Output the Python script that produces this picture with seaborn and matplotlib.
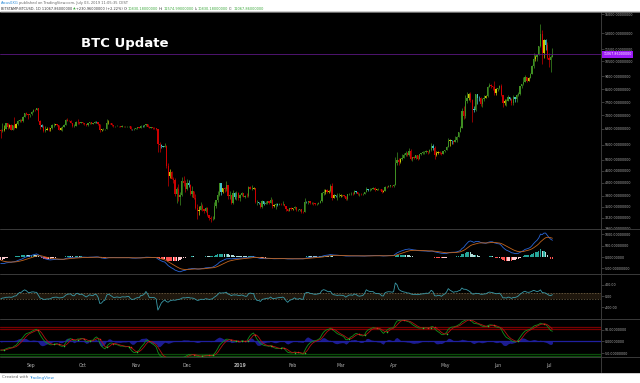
import numpy as np
import pandas as pd
import matplotlib
matplotlib.use("Agg")
import matplotlib.pyplot as plt
import matplotlib.transforms as mtrans
from matplotlib.ticker import NullLocator
import seaborn as sns

W, H = 640, 383

# BITSTAMP:BTCUSD daily. closes before the visible window only warm up the indicators
warm_close = [6360, 6620, 6510, 6590, 6530, 6760, 6710, 6700, 6670, 6300,
              6390, 6250, 6220, 6250, 6350, 6730, 7310, 7380, 7470, 7330,
              7400, 7400, 7720, 8420, 8160, 7930, 8190, 8230, 8210, 8170,
              7730, 7600, 7530, 7420, 7010, 7030, 6940, 6720, 6280, 6540,
              6150, 6240, 6310, 6270]
first_open = 6270

# visible candles: 2018-08-14 .. 2019-07-03
close_aug = [6200, 6250, 6310, 6580, 6390, 6490, 6260, 6470, 6370, 6530,
             6690, 6740, 6700, 6910, 7090, 7040, 6980, 7030]
high_aug = [6280, 6610, 6480, 6590, 6600, 6540, 6540, 6500, 6880, 6570,
            6720, 6800, 6780, 6950, 7130, 7140, 7060, 7080]
low_aug = [5880, 6170, 6220, 6300, 6300, 6330, 6250, 6250, 6290, 6360,
           6480, 6660, 6620, 6660, 6880, 6990, 6810, 6880]

close_sep = [7190, 7270, 7260, 7360, 6690, 6500, 6410, 6200, 6250, 6310,
             6280, 6330, 6490, 6490, 6530, 6500, 6250, 6340, 6390, 6490,
             6760, 6710, 6700, 6590, 6420, 6460, 6660, 6620, 6590, 6630]
high_sep = [7240, 7340, 7340, 7400, 7400, 6730, 6530, 6470, 6450, 6400,
            6390, 6350, 6540, 6600, 6560, 6530, 6510, 6390, 6440, 6530,
            6790, 6820, 6760, 6720, 6600, 6550, 6700, 6790, 6620, 6660]
low_sep = [7020, 7170, 7210, 7250, 6680, 6310, 6380, 6170, 6150, 6240,
           6200, 6210, 6320, 6410, 6480, 6460, 6230, 6250, 6200, 6380,
           6480, 6690, 6670, 6570, 6410, 6390, 6450, 6560, 6530, 6580]

close_oct = [6590, 6520, 6480, 6570, 6620, 6560, 6590, 6660, 6630, 6560,
             6240, 6290, 6300, 6300, 6600, 6610, 6570, 6490, 6420, 6440,
             6440, 6420, 6410, 6440, 6420, 6420, 6430, 6430, 6290, 6280,
             6310]
high_oct = [6650, 6610, 6540, 6600, 6650, 6640, 6610, 6700, 6690, 6640,
            6560, 6300, 6330, 6320, 6800, 6720, 6610, 6570, 6490, 6460,
            6480, 6460, 6430, 6470, 6450, 6430, 6450, 6450, 6440, 6300,
            6330]
low_oct = [6550, 6490, 6440, 6460, 6550, 6540, 6520, 6580, 6590, 6470,
           6150, 6200, 6270, 6270, 6280, 6550, 6540, 6460, 6410, 6400,
           6420, 6390, 6380, 6400, 6400, 6390, 6410, 6400, 6250, 6270,
           6240]

close_nov = [6340, 6380, 6370, 6460, 6420, 6470, 6530, 6410, 6340, 6380,
             6360, 6340, 6290, 5640, 5600, 5530, 5500, 5560, 4760, 4420,
             4550, 4320, 4300, 3860, 4010, 3780, 3820, 4240, 4200, 4000]
high_nov = [6370, 6400, 6400, 6490, 6470, 6490, 6560, 6540, 6420, 6380,
            6390, 6380, 6340, 6300, 5710, 5640, 5560, 5670, 5570, 4860,
            4640, 4590, 4380, 4340, 4080, 4160, 3900, 4370, 4410, 4280]
low_nov = [6300, 6320, 6340, 6360, 6390, 6380, 6440, 6400, 6330, 6330,
           6320, 6320, 6270, 5300, 5300, 5450, 5480, 5480, 4700, 4100,
           4350, 4320, 4200, 3800, 3600, 3660, 3560, 3810, 4100, 3920]

close_dec = [4200, 4140, 3850, 3940, 3740, 3470, 3380, 3420, 3520, 3430,
             3380, 3480, 3280, 3210, 3190, 3200, 3520, 3680, 3840, 4180,
             3920, 4030, 3990, 4130, 3790, 3830, 3600, 3880, 3760, 3890,
             3740]
high_dec = [4320, 4280, 4150, 4090, 3950, 3870, 3570, 3520, 3620, 3580,
            3430, 3500, 3500, 3290, 3260, 3270, 3620, 3690, 3940, 4200,
            4190, 4040, 4060, 4260, 4130, 3930, 3840, 3960, 3920, 3930,
            3900]
low_dec = [3980, 4080, 3820, 3760, 3720, 3430, 3200, 3280, 3410, 3390,
           3340, 3370, 3260, 3180, 3130, 3180, 3200, 3460, 3630, 3800,
           3820, 3880, 3920, 3950, 3720, 3710, 3570, 3580, 3710, 3690,
           3680]

close_jan = [3830, 3880, 3780, 3800, 3790, 4050, 4000, 4000, 4020, 3630,
             3630, 3600, 3490, 3660, 3580, 3610, 3650, 3600, 3690, 3530,
             3540, 3580, 3560, 3580, 3570, 3570, 3530, 3430, 3400, 3460,
             3430]
high_jan = [3850, 3910, 3890, 3820, 3880, 4090, 4100, 4120, 4050, 4030,
            3680, 3640, 3610, 3680, 3660, 3670, 3660, 3650, 3770, 3710,
            3570, 3610, 3590, 3600, 3590, 3670, 3580, 3530, 3440, 3480,
            3490]
low_jan = [3650, 3790, 3760, 3740, 3770, 3760, 3990, 3970, 3990, 3590,
           3540, 3570, 3480, 3480, 3560, 3580, 3580, 3570, 3600, 3470,
           3500, 3440, 3530, 3550, 3540, 3550, 3510, 3380, 3380, 3390,
           3410]

close_feb = [3460, 3500, 3410, 3410, 3430, 3370, 3360, 3630, 3620, 3660,
             3590, 3610, 3590, 3570, 3580, 3610, 3650, 3880, 3900, 3960,
             3900, 3940, 4110, 3740, 3830, 3800, 3800, 3800]
high_feb = [3480, 3510, 3500, 3440, 3440, 3440, 3390, 3730, 3660, 3670,
            3670, 3630, 3630, 3600, 3610, 3630, 3680, 3920, 4000, 3990,
            3990, 3980, 4160, 4190, 3860, 3840, 3880, 3890]
low_feb = [3420, 3450, 3400, 3380, 3400, 3350, 3340, 3360, 3590, 3580,
           3580, 3570, 3560, 3550, 3560, 3570, 3600, 3640, 3840, 3850,
           3880, 3890, 3920, 3690, 3730, 3770, 3680, 3770]

close_mar = [3820, 3820, 3790, 3700, 3850, 3860, 3870, 3860, 3930, 3910,
             3850, 3870, 3860, 3860, 3900, 4000, 3980, 3980, 4010, 4030,
             3980, 3990, 4000, 3990, 3920, 3940, 4080, 4070, 4110, 4110,
             4100]
high_mar = [3850, 3840, 3830, 3800, 3870, 3890, 3900, 3920, 3970, 3940,
            3920, 3880, 3880, 3890, 3920, 4060, 4010, 4020, 4030, 4050,
            4060, 4010, 4020, 4010, 4000, 3960, 4100, 4100, 4130, 4130,
            4120]
low_mar = [3780, 3790, 3770, 3680, 3690, 3820, 3840, 3820, 3850, 3880,
           3830, 3800, 3830, 3830, 3850, 3900, 3950, 3950, 3960, 4000,
           3940, 3960, 3970, 3970, 3890, 3910, 3930, 4040, 4050, 4080,
           4080]

close_apr = [4140, 4870, 4970, 4900, 5030, 5060, 5190, 5270, 5180, 5330,
             5020, 5080, 5070, 5160, 5040, 5200, 5240, 5280, 5280, 5340,
             5290, 5390, 5560, 5440, 5190, 5270, 5280, 5270, 5230, 5330]
high_apr = [4160, 5080, 5290, 5070, 5060, 5200, 5240, 5350, 5280, 5460,
            5420, 5110, 5120, 5170, 5190, 5230, 5270, 5340, 5340, 5380,
            5350, 5430, 5680, 5630, 5520, 5330, 5320, 5320, 5290, 5350]
low_apr = [4080, 4130, 4810, 4810, 4890, 5000, 5050, 5150, 5140, 5150,
           4980, 4940, 5030, 5030, 4990, 5040, 5170, 5220, 5200, 5250,
           5230, 5240, 5350, 5380, 5030, 5120, 5230, 5220, 5180, 5220]

close_may = [5380, 5500, 5770, 5780, 5740, 5700, 5780, 5940, 6150, 6340,
             7200, 6960, 7810, 7970, 8190, 7870, 7330, 7260, 8180, 7970,
             7950, 7620, 7880, 7990, 8060, 8670, 8780, 8720, 8660, 8270,
             8550]
high_may = [5390, 5520, 5890, 5840, 5800, 5760, 5960, 5990, 6180, 6420,
            7410, 7480, 8120, 8330, 8280, 8300, 7920, 7480, 8200, 8180,
            8060, 8020, 7950, 8150, 8140, 8720, 8940, 8820, 8690, 9070,
            8580]
low_may = [5300, 5360, 5490, 5530, 5640, 5620, 5700, 5700, 5920, 6150,
           6350, 6790, 6830, 7650, 7870, 7700, 6640, 7180, 7240, 7630,
           7800, 7500, 7450, 7800, 7960, 8030, 8620, 8570, 8450, 8140,
           8160]

close_jun = [8560, 8740, 8120, 7670, 7790, 7800, 8000, 7920, 7640, 8010,
             7910, 8150, 8230, 8690, 8840, 8990, 9320, 9080, 9270, 9530,
             10170, 10690, 10850, 11000, 11760, 12930, 11180, 12360, 11880, 10800]
high_jun = [8600, 8790, 8840, 8130, 7900, 7880, 8120, 8050, 7950, 8120,
            8020, 8210, 8300, 8710, 8880, 9330, 9440, 9350, 9300, 9600,
            10190, 11220, 11030, 11100, 11780, 13880, 13330, 12400, 12390, 12140]
low_jun = [8420, 8500, 8060, 7460, 7580, 7520, 7780, 7830, 7550, 7580,
           7740, 7700, 8070, 8170, 8600, 8800, 9020, 8980, 9050, 9250,
           9530, 9960, 10560, 10550, 10980, 11660, 10300, 10800, 11410, 10680]

close_jul = [10590, 10830, 11067.86]
high_jul = [11200, 10990, 11575]
low_jul = [10100, 9720, 10830]

last_price = 11067.86
month_labels = ["Sep", "Oct", "Nov", "Dec", "2019", "Feb", "Mar", "Apr", "May", "Jun", "Jul"]
month_starts = ["2018-09-01", "2018-10-01", "2018-11-01", "2018-12-01", "2019-01-01",
                "2019-02-01", "2019-03-01", "2019-04-01", "2019-05-01", "2019-06-01", "2019-07-01"]
price_ticks = [15000, 13000, 11500, 10500, 9400, 8500, 7700, 7000, 6300,
               5600, 5000, 4600, 4200, 3800, 3500, 3220, 2960]
macd_ticks = [1000, 500, 0, -500]
cci_ticks = [400, 0, -400]
wt_ticks = [50, 0, -50]

closes = np.array(close_aug + close_sep + close_oct + close_nov + close_dec + close_jan
                  + close_feb + close_mar + close_apr + close_may + close_jun + close_jul, float)
highs = np.array(high_aug + high_sep + high_oct + high_nov + high_dec + high_jan
                 + high_feb + high_mar + high_apr + high_may + high_jun + high_jul, float)
lows = np.array(low_aug + low_sep + low_oct + low_nov + low_dec + low_jan
                + low_feb + low_mar + low_apr + low_may + low_jun + low_jul, float)
opens = np.r_[first_open, closes[:-1]]
highs = np.maximum(highs, np.maximum(opens, closes))
lows = np.minimum(lows, np.minimum(opens, closes))
dates = pd.date_range("2018-08-14", periods=len(closes), freq="D")
assert len(closes) == len(highs) == len(lows) == 324
idx = np.arange(len(closes))

# indicators (TradingView style)
nw = len(warm_close)
full_close = pd.Series(np.r_[warm_close, closes])
full_tp = pd.Series(np.r_[warm_close, (highs + lows + closes) / 3])


def ema(s, n):
    return s.ewm(span=n, adjust=False).mean()


macd = ema(full_close, 12) - ema(full_close, 26)
signal = ema(macd, 9)
hist = macd - signal
hist_prev = hist.shift(1).fillna(0)

sma20 = full_tp.rolling(20, min_periods=1).mean()
mdev = full_tp.rolling(20, min_periods=1).apply(lambda x: np.abs(x - x.mean()).mean(), raw=True)
cci = ((full_tp - sma20) / (0.015 * mdev)).fillna(0)

esa = ema(full_tp, 10)
dd = ema((full_tp - esa).abs(), 10)
ci = ((full_tp - esa) / (0.015 * dd)).fillna(0)
wt1 = ema(ci, 21)
wt2 = wt1.rolling(4, min_periods=1).mean()

macd, signal, hist, hist_prev, cci, wt1, wt2 = [
    s.iloc[nw:].to_numpy() for s in (macd, signal, hist, hist_prev, cci, wt1, wt2)]

hcol = np.where(hist >= 0,
                np.where(hist >= hist_prev, "#26a69a", "#b2dfdb"),
                np.where(hist < hist_prev, "#ff5252", "#ffcdd2"))

up = closes >= opens
inside = np.r_[False, (highs[1:] < highs[:-1]) & (lows[1:] > lows[:-1])]
ccol = np.where(up, "#3f8f22", "#cc0000")
ccol = np.where(inside & up, "#c8c800", ccol)
ccol = np.where(inside & ~up, "#45c2c8", ccol)

# figure
sns.set_theme(style="dark", rc={"axes.facecolor": "black"})
plt.rcParams["font.family"] = ["DejaVu Sans"]
fig = plt.figure(figsize=(6.4, 3.83), dpi=100, facecolor="white")


def px_axes(x0, y0, x1, y1):
    return fig.add_axes([x0 / W, 1 - y1 / H, (x1 - x0) / W, (y1 - y0) / H])


fig.patches.append(plt.Rectangle((0, 1 - 372 / H), 1, 360 / H, transform=fig.transFigure,
                                 color="black", zorder=-5))

XR = 601
LBL = 2.3
xl = (-0.445, (XR - 0.76) / 1.708)
ax_p = px_axes(0, 12, XR, 229)
ax_m = px_axes(0, 229, XR, 274)
ax_c = px_axes(0, 274, XR, 319)
ax_w = px_axes(0, 319, XR, 357)
ax_x = px_axes(0, 357, XR, 372)


def style(ax, ylim, ticks, labels):
    ax.set_facecolor("black")
    ax.set_xlim(xl)
    ax.set_ylim(ylim)
    ax.set_xticks([])
    for s in ax.spines.values():
        s.set_visible(False)
    ax.grid(False)
    ax.set_xlabel("")
    ax.set_ylabel("")
    ax.yaxis.tick_right()
    ax.set_yticks(ticks)
    ax.set_yticklabels(labels)
    ax.yaxis.set_minor_locator(NullLocator())
    ax.tick_params(axis="y", which="major", length=1.8, width=0.4, color="#666666",
                   labelsize=LBL, labelcolor="#b0b0b0", pad=1.2)


# price candles
ax_p.set_yscale("log")
ax_p.vlines(idx, lows, highs, colors=ccol, linewidth=0.5)
body_lo = np.minimum(opens, closes)
body_h = np.maximum(np.abs(closes - opens), closes * 0.002)
ax_p.bar(idx, body_h, bottom=body_lo, width=0.75, color=ccol, linewidth=0)
ax_p.axhline(last_price, color="#5a1780", linewidth=0.6)
style(ax_p, (2982, 15245), price_ticks, [f"{t}.00000000" for t in price_ticks])
blend = mtrans.blended_transform_factory(ax_p.transAxes, ax_p.transData)
ax_p.text(1.004, last_price, f"{last_price:.8f}", transform=blend, ha="left", va="center",
          fontsize=LBL, color="white", clip_on=False, zorder=10,
          bbox=dict(boxstyle="square,pad=0.45", fc="#9b19f5", ec="none"))

# MACD
ax_m.bar(idx, hist, width=0.8, color=hcol, linewidth=0)
sns.lineplot(x=idx, y=macd, ax=ax_m, color="#2a66d8", linewidth=0.6)
sns.lineplot(x=idx, y=signal, ax=ax_m, color="#c0631c", linewidth=0.6)
style(ax_m, (-752, 1239), macd_ticks, [f"{t}.00000000" for t in macd_ticks])

# CCI
ax_c.axhspan(-100, 100, color="#1f170d", linewidth=0)
for lvl in (100, -100):
    ax_c.axhline(lvl, color="#7a6a4c", linewidth=0.5, linestyle=(0, (2, 2)))
sns.lineplot(x=idx, y=cci, ax=ax_c, color="#3a9aa8", linewidth=0.6)
style(ax_c, (-805, 770), cci_ticks, [f"{t}.00" for t in cci_ticks])

# WaveTrend
for lvl in (60, 53):
    ax_w.axhline(lvl, color="#7a0000", linewidth=0.9)
for lvl in (-60, -53):
    ax_w.axhline(lvl, color="#0b4d0b", linewidth=0.9)
ax_w.axhline(0, color="#2020a0", linewidth=0.9)
ax_w.fill_between(idx, 0, wt1 - wt2, color="#1c1c90", linewidth=0)
sns.lineplot(x=idx, y=wt1, ax=ax_w, color="#12901a", linewidth=0.6)
sns.lineplot(x=idx, y=wt2, ax=ax_w, color="#b01212", linewidth=0.6)
diff = wt1 - wt2
cross_up = np.r_[False, (diff[1:] > 0) & (diff[:-1] <= 0)]
cross_dn = np.r_[False, (diff[1:] < 0) & (diff[:-1] >= 0)]
ax_w.scatter(idx[cross_up], wt2[cross_up], s=1.2, color="#22cc33", zorder=5, linewidths=0)
ax_w.scatter(idx[cross_dn], wt2[cross_dn], s=1.2, color="#dd2222", zorder=5, linewidths=0)
style(ax_w, (-65, 94), wt_ticks, [f"{t}.00000000" for t in wt_ticks])

# date strip
style(ax_x, (0, 1), [], [])
month_idx = [dates.get_loc(pd.Timestamp(d)) for d in month_starts]
for mi, lab in zip(month_idx, month_labels):
    ax_x.text(mi, 0.45, lab, ha="center", va="center", fontsize=3.3, color="#b0b0b0",
              fontweight="bold" if lab == "2019" else "normal")

# separators
for yy in (229, 274, 319, 357):
    fig.add_artist(plt.Line2D([0, 1], [1 - yy / H] * 2, transform=fig.transFigure,
                              color="#3a3a3a", linewidth=0.7))
fig.add_artist(plt.Line2D([XR / W] * 2, [1 - 12 / H, 1 - 372 / H], transform=fig.transFigure,
                          color="#3a3a3a", linewidth=0.7))
fig.add_artist(plt.Line2D([0, 1], [1 - 12 / H] * 2, transform=fig.transFigure,
                          color="#9a9a9a", linewidth=0.5))

# texts
fig.text(81 / W, 1 - 44 / H, "BTC Update", fontsize=9.5, fontweight="bold", color="white",
         va="center", ha="left")

renderer = fig.canvas.get_renderer()


def rich(x_px, y_px, parts, size):
    x = x_px / W
    for s, c in parts:
        t = fig.text(x, 1 - y_px / H, s, color=c, fontsize=size, va="center", ha="left")
        x += t.get_window_extent(renderer=renderer).width / fig.bbox.width + 0.6 / W


dark, green = "#333333", "#3aa83a"
rich(1, 3, [("Arcus0XG", "#2a8bd8"), ("published on TradingView.com, July 03, 2019 11:05:35 CEST", "#666666")], 2.6)
rich(1, 8.5, [("BITSTAMP:BTCUSD, 1D 11067.86000000", dark), ("\u25b2", green),
              ("+230.96000000 (+2.22%)", dark), ("O:", dark), ("10830.18000000", green),
              ("H:", dark), ("11574.99000000", green), ("L:", dark), ("10830.18000000", green),
              ("C:", dark), ("11067.86000000", green)], 2.5)
rich(2, 377.5, [("Created with", "#666666"), ("TradingView", "#2a8bd8")], 3)

fig.savefig("out.png", dpi=100, facecolor="white")
